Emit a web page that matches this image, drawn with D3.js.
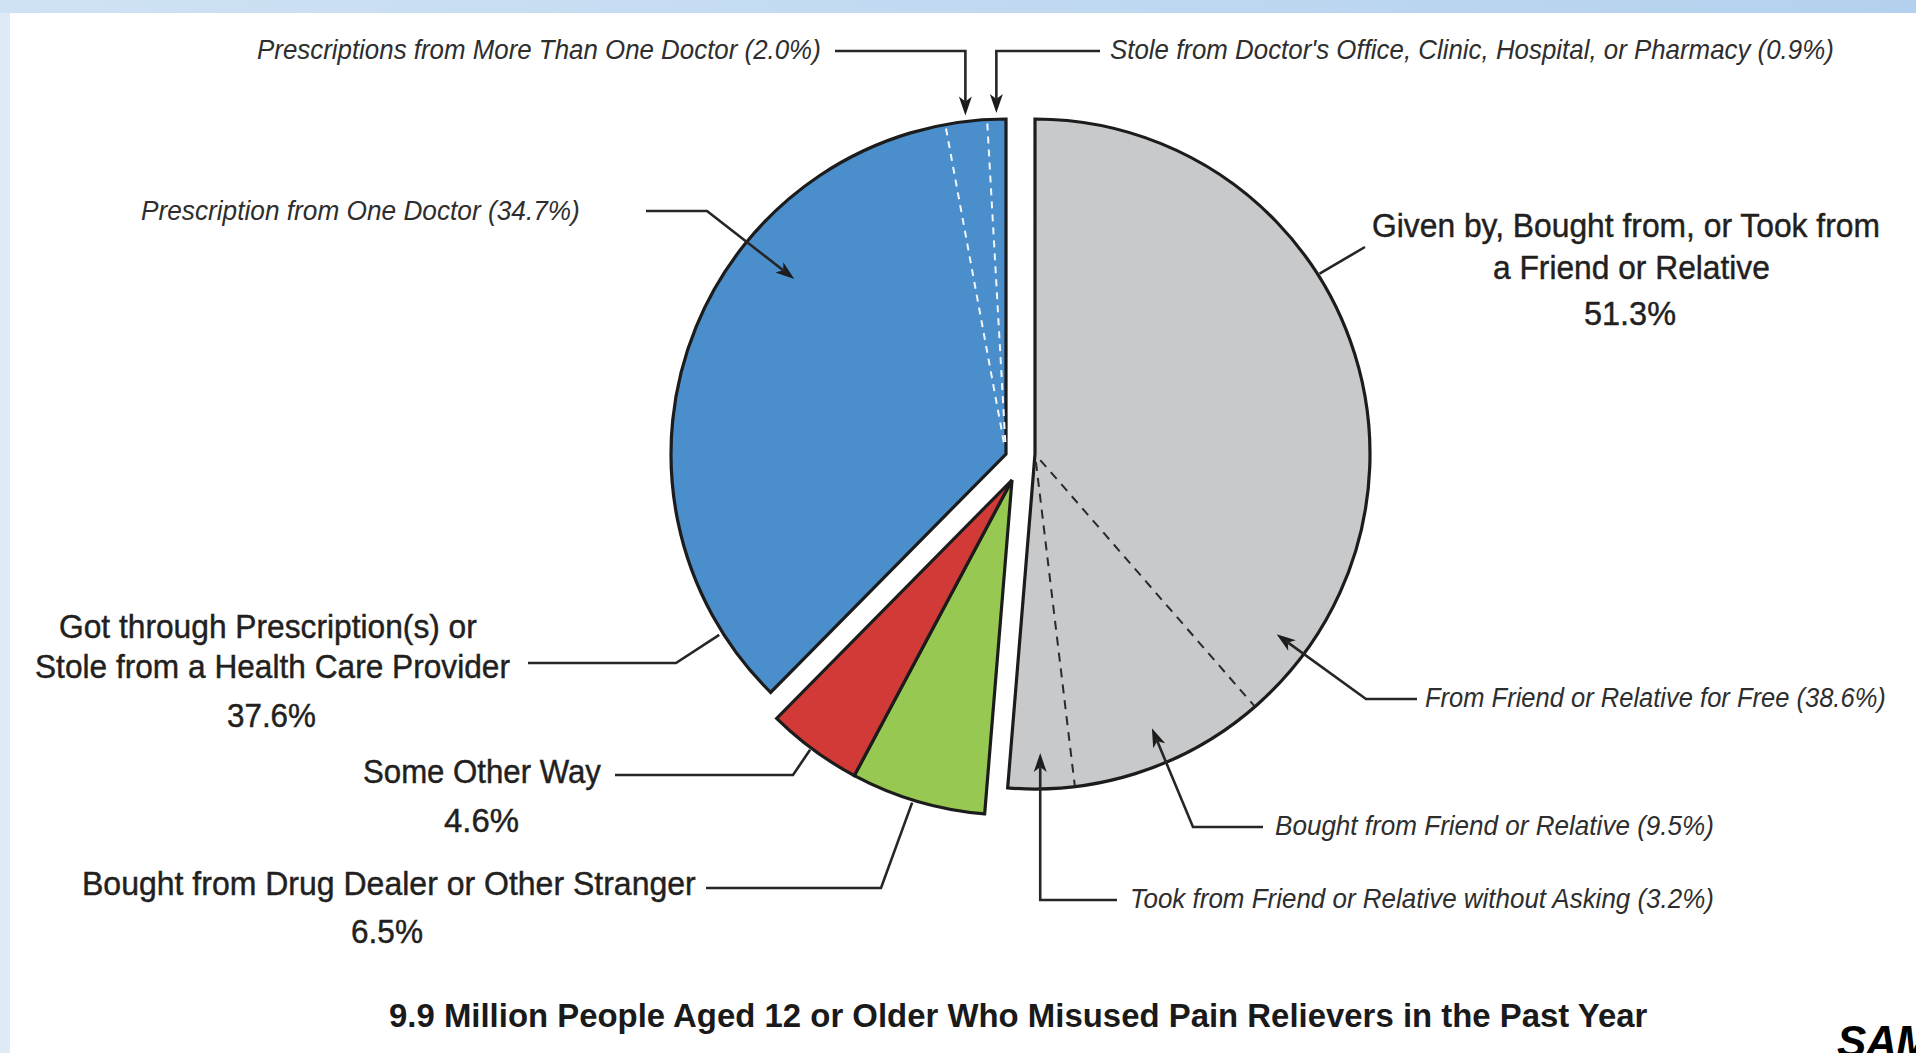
<!DOCTYPE html>
<html><head><meta charset="utf-8">
<script src="https://cdn.jsdelivr.net/npm/d3@7"></script>
<style>
html,body{margin:0;padding:0;background:#fff;overflow:hidden}
svg{display:block}
.lab{font-family:"Liberation Sans Narrow","Liberation Sans",Arial,sans-serif;font-size:33px;fill:#231f20;stroke:#231f20;stroke-width:0.45px}
.sub{font-family:"Liberation Sans Narrow","Liberation Sans",Arial,sans-serif;font-size:28px;font-style:italic;fill:#2e2e2e}
.ttl{font-family:"Liberation Sans Narrow","Liberation Sans",Arial,sans-serif;font-size:34px;font-weight:bold;fill:#1a1a1a}
.logo{font-family:"Liberation Sans",Arial,sans-serif;font-size:44px;font-weight:bold;font-style:italic;fill:#000}
</style></head><body>
<svg id="chart" width="1916" height="1053"></svg>
<script>
// Main sources, clockwise from 12 o'clock
const groupNames = [
  ["Given by, Bought from, or Took from", "a Friend or Relative"],
  ["Bought from Drug Dealer or Other Stranger"],
  ["Some Other Way"],
  ["Got through Prescription(s) or", "Stole from a Health Care Provider"]
];
const groupValues = [51.3, 6.5, 4.6, 37.6];
const groupColors = ["#c8c9cb", "#96c852", "#d13a37", "#4a8ecb"];

// Breakdown of the friend / relative slice, clockwise
const friendParts = ["From Friend or Relative for Free", "Bought from Friend or Relative", "Took from Friend or Relative without Asking"];
const friendValues = [38.6, 9.5, 3.2];

// Breakdown of the prescription slice, clockwise
const rxParts = ["Prescription from One Doctor", "Prescriptions from More Than One Doctor", "Stole from Doctor's Office, Clinic, Hospital, or Pharmacy"];
const rxValues = [34.7, 2.0, 0.9];

const chartTitle = "9.9 Million People Aged 12 or Older Who Misused Pain Relievers in the Past Year";

// ---- layout ----
const W = 1916, H = 1053;
const R = 335;
const centre = {x: 1020, y: 454};
// each source is pulled away from the centre by its own offset
const groupShift = [[15, 0], [-8, 26], [-8, 26], [-14, 0]];

// text lines: [x start, x end, baseline]; leader: t = position across slice, rf = radius factor
const groupLayout = [
  {lines: [[1372, 1880, 237], [1493, 1770, 279], [1584, 1676, 325]], t: 0.312, rf: 1.006, path: [[1365, 247]]},
  {lines: [[82, 696, 895], [351, 423, 943]], t: 0.535, rf: 1.008, path: [[706, 888], [881, 888]]},
  {lines: [[363, 601, 783], [444, 519, 832]], t: 0.527, rf: 1.006, path: [[615, 775], [793, 775]]},
  {lines: [[59, 477, 638], [35, 510, 678], [227, 316, 727]], t: 0.097, rf: 1.012, path: [[528, 663], [676, 663]]}
];
const friendLayout = [
  {line: [1425, 1886, 707], t: 0.912, rf: 0.90, path: [[1417, 699], [1366, 699]]},
  {line: [1275, 1714, 835], t: 0.525, rf: 0.89, path: [[1263, 827], [1193, 827]]},
  {line: [1130, 1714, 908], t: 0.507, rf: 0.893, path: [[1117, 900], ["tip", 900]]}
];
const rxLayout = [
  {line: [141, 580, 220], t: 0.68, rf: 0.82, path: [[646, 211], [707, 211]]},
  {line: [257, 821, 59], t: 0.5, rf: 1.018, path: [[835, 51], ["tip", 51]]},
  {line: [1110, 1834, 59], t: 0.5, rf: 1.018, path: [[1100, 51], ["tip", 51]]}
];

const svg = d3.select("#chart");

// frame
const defs = svg.append("defs");
const grad = defs.append("linearGradient").attr("id", "band").attr("x1", 0).attr("x2", 1).attr("y1", 0).attr("y2", 0);
grad.append("stop").attr("offset", 0).attr("stop-color", "#cfe2f4");
grad.append("stop").attr("offset", 1).attr("stop-color", "#b3d1ee");
svg.append("rect").attr("width", W).attr("height", H).attr("fill", "#fff");
svg.append("rect").attr("x", 0).attr("y", 0).attr("width", 10).attr("height", H).attr("fill", "#dfeaf6");
svg.append("rect").attr("x", 0).attr("y", 0).attr("width", W).attr("height", 13).attr("fill", "url(#band)");

const pie = d3.pie().sort(null).value(d => d);
const arcs = pie(groupValues);
const arc = d3.arc().innerRadius(0).outerRadius(R);

const apex = i => ({x: centre.x + groupShift[i][0], y: centre.y + groupShift[i][1]});
const polar = (o, a, r) => [o.x + r * Math.sin(a), o.y - r * Math.cos(a)];
const at = (d, t) => d.startAngle + t * (d.endAngle - d.startAngle);

// slices
const slices = svg.append("g");
arcs.forEach((d, i) => {
  const o = apex(i);
  slices.append("path")
    .attr("transform", `translate(${o.x},${o.y})`)
    .attr("d", arc(d))
    .attr("fill", groupColors[i])
    .attr("stroke", "#1c1c1c")
    .attr("stroke-width", 3.2)
    .attr("stroke-linejoin", "miter");
});

// sub-slices of friend (0) and prescription (3) sources
const subPie = (parent, vals) => d3.pie().sort(null).value(d => d)
  .startAngle(parent.startAngle).endAngle(parent.endAngle)(vals);
const friendArcs = subPie(arcs[0], friendValues);
const rxArcs = subPie(arcs[3], rxValues);

const dashes = svg.append("g");
function dividers(sub, gi, colour, dash, r0) {
  const o = apex(gi);
  sub.slice(1).forEach(d => {
    const p0 = polar(o, d.startAngle, r0), p1 = polar(o, d.startAngle, R - 1);
    dashes.append("line")
      .attr("x1", p0[0]).attr("y1", p0[1]).attr("x2", p1[0]).attr("y2", p1[1])
      .attr("stroke", colour).attr("stroke-width", 2).attr("stroke-dasharray", dash);
  });
}
dividers(friendArcs, 0, "#2a2a2a", "9,7", 8);
dividers(rxArcs, 3, "#f2f6fb", "7,6", 12);

// leaders
const leaders = svg.append("g");
const lineGen = d3.line();
function leader(path, tip, arrow) {
  const pts = path.map(p => [p[0] === "tip" ? tip[0] : p[0], p[1]]);
  pts.push(tip);
  let end = tip;
  if (arrow) {
    const prev = pts[pts.length - 2];
    const ang = Math.atan2(tip[1] - prev[1], tip[0] - prev[0]);
    end = [tip[0] - 12 * Math.cos(ang), tip[1] - 12 * Math.sin(ang)];
    leaders.append("path")
      .attr("d", "M0,0 L-19,-6.5 L-14,0 L-19,6.5 Z")
      .attr("transform", `translate(${tip[0]},${tip[1]}) rotate(${ang * 180 / Math.PI})`)
      .attr("fill", "#1c1c1c");
  }
  pts[pts.length - 1] = end;
  leaders.append("path").attr("d", lineGen(pts))
    .attr("fill", "none").attr("stroke", "#262626").attr("stroke-width", 2.6)
    .attr("stroke-linejoin", "miter");
}

// condensed type: each line is squeezed horizontally to its set width
const texts = svg.append("g");
function label(spec, str, cls) {
  const t = texts.append("text").attr("class", cls).attr("x", 0).attr("y", 0).text(str);
  const natural = t.node().getComputedTextLength() || 1;
  const sx = (spec[1] - spec[0]) / natural;
  t.attr("transform", `translate(${spec[0]},${spec[2]}) scale(${sx},1)`);
}
const pct = v => `${v.toFixed(1)}%`;

arcs.forEach((d, i) => {
  const L = groupLayout[i];
  leader(L.path, polar(apex(i), at(d, L.t), R * L.rf), false);
  const lines = groupNames[i].concat([pct(groupValues[i])]);
  lines.forEach((s, k) => label(L.lines[k], s, "lab"));
});
friendArcs.forEach((d, i) => {
  const L = friendLayout[i];
  leader(L.path, polar(apex(0), at(d, L.t), R * L.rf), true);
  label(L.line, `${friendParts[i]} (${pct(friendValues[i])})`, "sub");
});
rxArcs.forEach((d, i) => {
  const L = rxLayout[i];
  leader(L.path, polar(apex(3), at(d, L.t), R * L.rf), true);
  label(L.line, `${rxParts[i]} (${pct(rxValues[i])})`, "sub");
});

// title
label([389, 1648, 1027], chartTitle, "ttl");

// agency mark, running off the corner
svg.append("text").attr("class", "logo").attr("x", 1837).attr("y", 1057)
  .attr("letter-spacing", -1).text("SAMHSA");
</script>
</body></html>
